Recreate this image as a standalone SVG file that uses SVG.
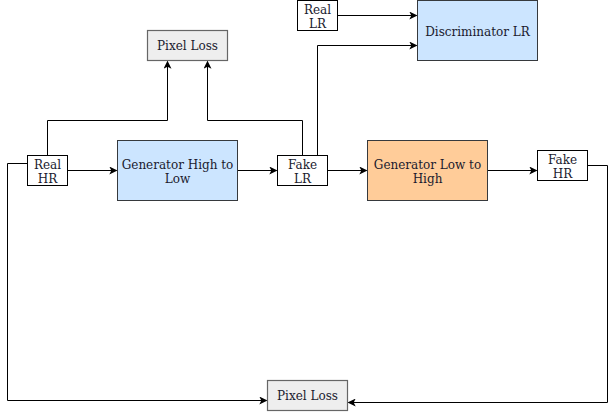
<svg xmlns="http://www.w3.org/2000/svg" width="616" height="413" viewBox="0 0 616 413">
<style>
text{font-family:"DejaVu Serif","Liberation Serif",serif;font-size:12px;fill:#1a1a2e;text-anchor:middle}
.plain{fill:#ffffff;stroke:#000000;stroke-width:1}
.blue{fill:#cce5ff;stroke:#36393d;stroke-width:1}
.orange{fill:#ffcc99;stroke:#36393d;stroke-width:1}
.loss{fill:#eeeeee;stroke:#666666;stroke-width:1.2}
.edge{fill:none;stroke:#000000;stroke-width:1}
</style>
<defs>
<marker id="arr" viewBox="0 0 10 10" refX="9" refY="5" markerWidth="8" markerHeight="8" markerUnits="userSpaceOnUse" orient="auto">
<path d="M0,0 L10,5 L0,10 L2.5,5 Z" fill="#000000"/>
</marker>
</defs>
<g id="connectors">
<path class="edge" d="M67.5,170.5 H116.5" marker-end="url(#arr)"/>
<path class="edge" d="M237.5,170.5 H276.5" marker-end="url(#arr)"/>
<path class="edge" d="M327.5,170.5 H366.5" marker-end="url(#arr)"/>
<path class="edge" d="M487.5,170.5 H536.5" marker-end="url(#arr)"/>
<path class="edge" d="M47.5,155 V120.5 H167.5 V61.5" marker-end="url(#arr)"/>
<path class="edge" d="M302.5,155 V120.5 H207.5 V61.5" marker-end="url(#arr)"/>
<path class="edge" d="M337.5,15.5 H416.5" marker-end="url(#arr)"/>
<path class="edge" d="M317.5,155 V45.5 H416.5" marker-end="url(#arr)"/>
<path class="edge" d="M27,163.5 H7.5 V400.5 H266.5" marker-end="url(#arr)"/>
<path class="edge" d="M587,165.5 H607.5 V402.5 H348.5" marker-end="url(#arr)"/>
</g>
<g id="real-hr">
<rect class="plain" x="27.5" y="155.5" width="40" height="30"/>
<text x="47.5" y="168.5">Real</text>
<text x="47.5" y="182.5">HR</text>
</g>
<g id="gen-high-to-low">
<rect class="blue" x="117.5" y="140.5" width="120" height="60"/>
<text x="177.5" y="169">Generator High to</text>
<text x="177.5" y="183">Low</text>
</g>
<g id="fake-lr">
<rect class="plain" x="277.5" y="155.5" width="50" height="30"/>
<text x="302.5" y="168.5">Fake</text>
<text x="302.5" y="182.5">LR</text>
</g>
<g id="gen-low-to-high">
<rect class="orange" x="367.5" y="140.5" width="120" height="60"/>
<text x="427.5" y="169">Generator Low to</text>
<text x="427.5" y="183">High</text>
</g>
<g id="fake-hr">
<rect class="plain" x="537.5" y="150.5" width="50" height="30"/>
<text x="562.5" y="163.5">Fake</text>
<text x="562.5" y="177.5">HR</text>
</g>
<g id="real-lr">
<rect class="plain" x="297.5" y="0.5" width="40" height="30"/>
<text x="317.5" y="14">Real</text>
<text x="317.5" y="28">LR</text>
</g>
<g id="discriminator-lr">
<rect class="blue" x="417.5" y="0.5" width="120" height="60"/>
<text x="477.5" y="36">Discriminator LR</text>
</g>
<g id="pixel-loss-top">
<rect class="loss" x="147.5" y="30.5" width="80" height="30"/>
<text x="187.5" y="50">Pixel Loss</text>
</g>
<g id="pixel-loss-bottom">
<rect class="loss" x="267.5" y="380.5" width="80" height="30"/>
<text x="307.5" y="399.5">Pixel Loss</text>
</g>
</svg>
